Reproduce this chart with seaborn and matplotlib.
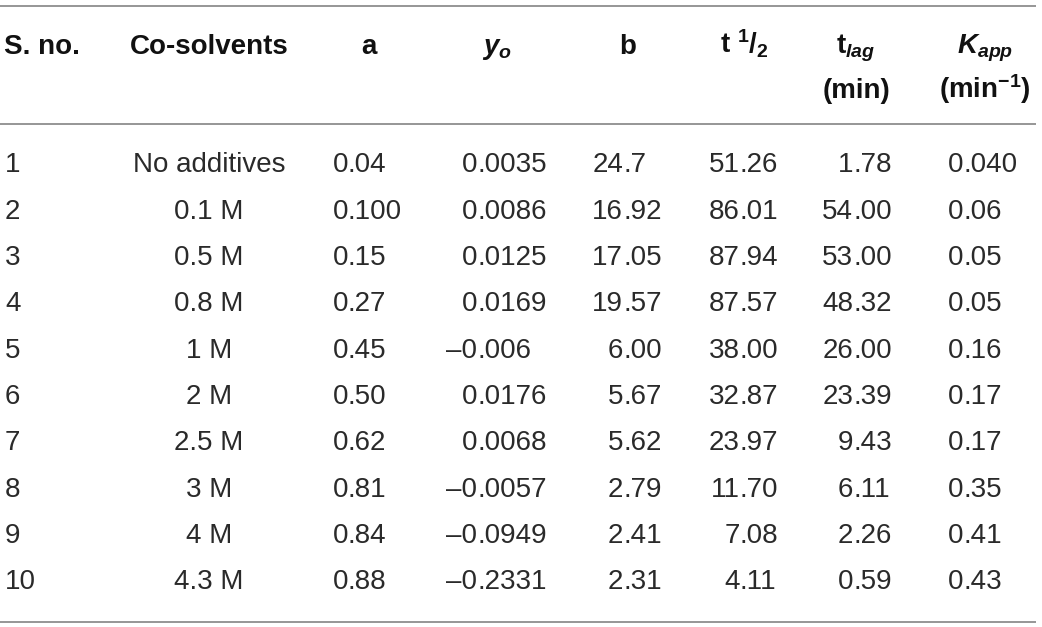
import matplotlib
matplotlib.use('Agg')
import matplotlib.pyplot as plt
import seaborn as sns

# ---------------- data ----------------
sno = ['1', '2', '3', '4', '5', '6', '7', '8', '9', '10']
cosolvents = ['No additives', '0.1 M', '0.5 M', '0.8 M', '1 M', '2 M',
              '2.5 M', '3 M', '4 M', '4.3 M']
a_vals = ['0.04', '0.100', '0.15', '0.27', '0.45', '0.50', '0.62', '0.81',
          '0.84', '0.88']
yo_vals = ['0.0035', '0.0086', '0.0125', '0.0169', '–0.006', '0.0176',
           '0.0068', '–0.0057', '–0.0949', '–0.2331']
b_vals = ['24.7', '16.92', '17.05', '19.57', '6.00', '5.67', '5.62', '2.79',
          '2.41', '2.31']
thalf_vals = ['51.26', '86.01', '87.94', '87.57', '38.00', '32.87', '23.97',
              '11.70', '7.08', '4.11']
tlag_vals = ['1.78', '54.00', '53.00', '48.32', '26.00', '23.39', '9.43',
             '6.11', '2.26', '0.59']
kapp_vals = ['0.040', '0.06', '0.05', '0.05', '0.16', '0.17', '0.17', '0.35',
             '0.41', '0.43']

header_line1 = ['S. no.', 'Co-solvents', 'a', r'$\mathbfit{y}_{\mathbfit{o}}$',
                'b', r't $\mathbf{{}^{1}/_{2}}$', r't$_{\mathbfit{lag}}$',
                r'$\mathbfit{K}_{\mathbfit{app}}$']
header_line2 = ['', '', '', '', '', '', '(min)', r'(min$^{\mathbf{-1}}$)']

# ---------------- style ----------------
sns.set_theme(style='white')
plt.rcParams['font.family'] = ['Liberation Sans', 'DejaVu Sans']
plt.rcParams['mathtext.fontset'] = 'custom'
plt.rcParams['mathtext.rm'] = 'Liberation Sans'
plt.rcParams['mathtext.it'] = 'Liberation Sans:italic'
plt.rcParams['mathtext.bf'] = 'Liberation Sans:bold'
plt.rcParams['mathtext.bfit'] = 'Liberation Sans:italic:bold'

FS = 20
DATA_COLOR = '#2a2a2a'
HEAD_COLOR = '#111111'
RULE_COLOR = '#8e8e8e'

W, H = 1042, 627
fig = plt.figure(figsize=(W / 100, H / 100), dpi=100)
ax = fig.add_axes([0, 0, 1, 1])
ax.set_xlim(0, W)
ax.set_ylim(H, 0)
ax.axis('off')

# layout (pixel units in axes data coords)
head_x = [4, 209, 369, 497, 628, 744, 856, 985]
head_ha = ['left', 'center', 'center', 'center', 'center', 'center',
           'center', 'center']
head_base1 = 54
head_base2 = 98
row_base0 = 172.5
row_step = 46.3
x_sno = 5
x_cos = 209
dec_cols = [(a_vals, 348), (yo_vals, 477), (b_vals, 623),
            (thalf_vals, 740), (tlag_vals, 853), (kapp_vals, 963)]

# rules
ax.hlines([6, 124, 622], 0, 1036, colors=RULE_COLOR, linewidth=1.3)

# header
for txt, x, ha in zip(header_line1, head_x, head_ha):
    ax.text(x, head_base1, txt, ha=ha, va='baseline', fontsize=FS,
            fontweight='bold', color=HEAD_COLOR)
for txt, x, ha in zip(header_line2, head_x, head_ha):
    if txt:
        ax.text(x, head_base2, txt, ha=ha, va='baseline', fontsize=FS,
                fontweight='bold', color=HEAD_COLOR)

# body
for i in range(len(sno)):
    yb = row_base0 + i * row_step
    ax.text(x_sno, yb, sno[i], ha='left', va='baseline', fontsize=FS,
            color=DATA_COLOR)
    ax.text(x_cos, yb, cosolvents[i], ha='center', va='baseline',
            fontsize=FS, color=DATA_COLOR)
    for vals, xd in dec_cols:
        s = vals[i]
        k = s.index('.')
        ax.text(xd, yb, s[:k], ha='right', va='baseline', fontsize=FS,
                color=DATA_COLOR)
        ax.text(xd, yb, s[k:], ha='left', va='baseline', fontsize=FS,
                color=DATA_COLOR)

fig.savefig('out.png', dpi=100)
